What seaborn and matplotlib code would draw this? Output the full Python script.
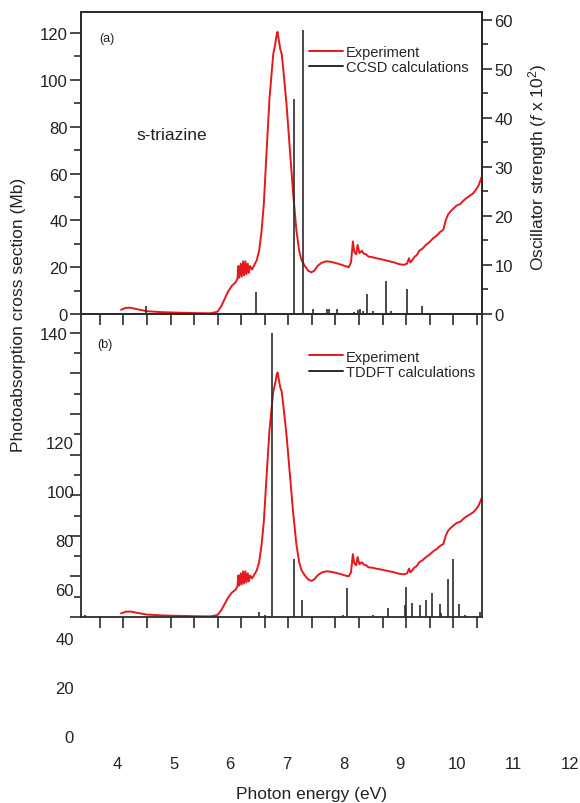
import numpy as np
import pandas as pd
import matplotlib
matplotlib.use("Agg")
import matplotlib.pyplot as plt
from matplotlib.lines import Line2D
from matplotlib.ticker import MultipleLocator, FixedLocator, FixedFormatter
import seaborn as sns

# Experimental photoabsorption cross section (eV, Mb)
energy = [4.45, 4.55, 4.65, 4.8, 5.0, 5.3, 5.6, 6.0, 6.35, 6.5, 6.58, 6.65, 6.72, 6.8,
          6.88, 6.92, 6.94, 6.96, 6.99, 7.01, 7.04, 7.06, 7.09, 7.11, 7.14, 7.16, 7.19,
          7.23, 7.28, 7.33, 7.38, 7.43, 7.48, 7.54, 7.6, 7.65, 7.68, 7.72, 7.75, 7.77,
          7.79, 7.83, 7.86, 7.9, 7.96, 8.03, 8.1, 8.17, 8.23, 8.28, 8.35, 8.42, 8.49,
          8.55, 8.62, 8.7, 8.8, 8.9, 9.0, 9.1, 9.2, 9.28, 9.33, 9.37, 9.4, 9.44, 9.47,
          9.51, 9.56, 9.6, 9.65, 9.7, 9.8, 9.87, 9.95, 10.05, 10.15, 10.25, 10.35, 10.45,
          10.52, 10.56, 10.59, 10.63, 10.68, 10.72, 10.78, 10.85, 10.92, 11.0, 11.08,
          11.15, 11.22, 11.29, 11.34, 11.39, 11.45, 11.5, 11.57, 11.65, 11.72, 11.78,
          11.85, 11.92, 11.98, 12.04, 12.1]
sigma = [1.8, 2.6, 2.7, 2.0, 1.2, 0.8, 0.6, 0.4, 0.3, 1.0, 3.5, 6.5, 9.5, 12.0,
         13.5, 15.0, 20.5, 15.5, 21.5, 16.0, 22.5, 16.5, 22.5, 17.0, 21.5, 17.5, 20.5,
         19.0, 21.0, 23.0, 27.0, 35.0, 47.0, 70.0, 92.0, 104.0, 111.0, 115.0, 119.0, 120.5,
         118.0, 113.0, 111.0, 103.0, 90.0, 71.0, 52.0, 36.0, 27.0, 23.0, 20.5, 18.5, 17.8,
         18.5, 20.5, 21.8, 22.5, 22.3, 21.8, 21.2, 20.5, 20.0, 22.0, 31.0, 26.5, 25.5, 29.5,
         26.0, 27.0, 25.8, 25.5, 24.5, 24.2, 23.8, 23.5, 23.0, 22.5, 22.0, 21.3, 21.0,
         21.5, 23.8, 22.0, 23.0, 24.5, 25.0, 27.0, 28.0, 29.5, 30.8, 32.5,
         33.5, 35.0, 36.0, 40.0, 42.5, 44.0, 45.0, 46.3, 47.0, 48.5, 49.5,
         50.5, 51.5, 53.0, 55.0, 58.4]

# CCSD oscillator strengths (f x 10^2)
ccsd_e = [4.99, 7.32, 8.12, 8.31, 8.53, 8.81, 8.87, 9.04, 9.31, 9.40, 9.48, 9.53,
          9.58, 9.68, 9.79, 9.87, 10.07, 10.18, 10.41, 10.51, 10.84]
ccsd_f = [1.7, 4.4, 43.9, 58.0, 1.0, 1.0, 1.0, 1.0, 0.3, 0.5, 0.9, 1.0,
          0.7, 4.0, 0.7, 0.3, 6.8, 0.7, 0.3, 5.0, 1.6]

# TDDFT sticks (drawn on panel b scale)
tddft_e = [3.68, 7.38, 7.50, 7.58, 7.65, 8.12, 8.30, 9.17, 9.24, 9.80, 10.12, 10.47,
           10.49, 10.62, 10.79, 10.92, 11.04, 11.22, 11.24, 11.39, 11.49, 11.63, 11.75, 12.07]
tddft_f = [1.0, 2.4, 0.8, 0.6, 140.0, 28.6, 8.2, 1.1, 14.1, 1.0, 4.3, 6.0,
           15.0, 7.1, 5.9, 8.4, 11.7, 6.6, 2.0, 18.8, 28.6, 6.3, 1.0, 2.4]

outer_xticks = [4, 5, 6, 7, 8, 9, 10, 11, 12]
outer_yticks = [0, 20, 40, 60, 80, 100, 120]

df = pd.DataFrame({"energy": energy, "sigma": sigma})

sns.set_theme(style="ticks")
plt.rcParams["font.family"] = ["Liberation Sans", "DejaVu Sans"]
plt.rcParams["mathtext.fontset"] = "custom"
plt.rcParams["mathtext.rm"] = "Liberation Sans"
plt.rcParams["mathtext.it"] = "Liberation Sans:italic"

W, H = 580, 804
red = "#e3191c"
dark = "#2b2b2b"


def box(l, t, r, b):
    return [l / W, 1 - b / H, (r - l) / W, (b - t) / H]


fig = plt.figure(figsize=(5.8, 8.04), dpi=100)

# outer frame carrying the stray tick labels
outer = fig.add_axes(box(81, 315, 575, 750))
outer.set_facecolor("none")
for s in outer.spines.values():
    s.set_visible(False)
outer.set_xlim(3.364, 12.09)
outer.set_ylim(-5.31, 172.2)
outer.set_xticks(outer_xticks)
outer.set_yticks(outer_yticks)
outer.tick_params(length=0, labelsize=12, colors="#222222", pad=5)

ax_a = fig.add_axes(box(81, 13, 482, 315))
ax_b = fig.add_axes(box(81, 315, 482, 618))

for ax in (ax_a, ax_b):
    sns.lineplot(data=df, x="energy", y="sigma", ax=ax, color=red, lw=1.4,
                 estimator=None, sort=False)
    ax.set_xlim(3.6, 12.11)
    ax.xaxis.set_major_locator(MultipleLocator(1))
    ax.xaxis.set_minor_locator(MultipleLocator(0.5))
    ax.tick_params(axis="x", which="both", direction="out", length=8, width=1.2,
                   color=dark, labelbottom=False)
    ax.tick_params(axis="y", which="major", direction="out", length=8, width=1.2,
                   color=dark, labelsize=12, pad=1.5, labelcolor="#222222")
    ax.tick_params(axis="y", which="minor", direction="out", length=5, width=1.2, color=dark)
    ax.set_xlabel("")
    ax.set_ylabel("")
    for s in ax.spines.values():
        s.set_color(dark)
        s.set_linewidth(1.3)
    ax.set_facecolor("none")

# panel (a)
ax_a.set_ylim(0, 129)
ax_a.yaxis.set_major_locator(MultipleLocator(20))
ax_a.yaxis.set_minor_locator(MultipleLocator(10))
twin = ax_a.twinx()
twin.vlines(ccsd_e, 0, ccsd_f, color=dark, lw=1.2)
twin.set_ylim(0, 61.6)
twin.yaxis.set_major_locator(MultipleLocator(10))
twin.yaxis.set_minor_locator(MultipleLocator(5))
twin.tick_params(axis="y", which="major", direction="out", length=7, width=1.2,
                 color=dark, labelsize=12, pad=2, labelcolor="#222222")
twin.tick_params(axis="y", which="minor", direction="out", length=4, width=1.2, color=dark)
for s in twin.spines.values():
    s.set_color(dark)
    s.set_linewidth(1.3)

ax_a.text(0.065, 0.914, "(a)", transform=ax_a.transAxes, fontsize=9,
          ha="center", va="center", color="#222222")
ax_a.text(0.227, 0.593, "s-triazine", transform=ax_a.transAxes, fontsize=12.5,
          ha="center", va="center", color="#222222")
h_a = [Line2D([], [], color=red, lw=1.4), Line2D([], [], color=dark, lw=1.4)]
twin.legend(h_a, ["Experiment", "CCSD calculations"], loc="upper left",
            bbox_to_anchor=(0.569, 0.892), frameon=False, fontsize=10.5,
            handlelength=2.3, handletextpad=0.2, borderpad=0, borderaxespad=0,
            labelspacing=0.1)

# panel (b)
ax_b.vlines(tddft_e, 0, tddft_f, color=dark, lw=1.2)
ax_b.set_ylim(0, 149.3)
ax_b.yaxis.set_major_locator(FixedLocator([0, 20, 40, 60, 80, 100, 120, 140]))
ax_b.yaxis.set_major_formatter(FixedFormatter([""] * 7 + ["140"]))
ax_b.yaxis.set_minor_locator(MultipleLocator(10))
ax_b.spines["top"].set_visible(False)
ax_b.text(0.06, 0.901, "(b)", transform=ax_b.transAxes, fontsize=9,
          ha="center", va="center", color="#222222")
h_b = [Line2D([], [], color=red, lw=1.4), Line2D([], [], color=dark, lw=1.4)]
ax_b.legend(h_b, ["Experiment", "TDDFT calculations"], loc="upper left",
            bbox_to_anchor=(0.569, 0.8825), frameon=False, fontsize=10.5,
            handlelength=2.3, handletextpad=0.2, borderpad=0, borderaxespad=0,
            labelspacing=0.1)

fig.text(19 / W, 1 - 315 / H, "Photoabsorption cross section (Mb)", rotation=90,
         ha="center", va="center", fontsize=12.5, color="#222222")
fig.text(538 / W, 1 - 167 / H, r"Oscillator strength ($f$ x 10$^2$)", rotation=90,
         ha="center", va="center", fontsize=12.5, color="#222222")
fig.text(312 / W, 1 - 795 / H, "Photon energy (eV)", ha="center", va="center",
         fontsize=12.5, color="#222222")

fig.savefig("out.png", dpi=100)
